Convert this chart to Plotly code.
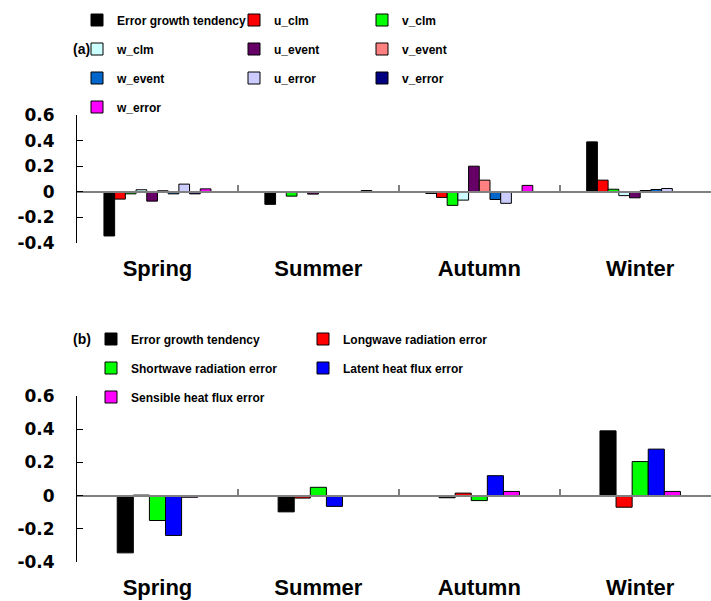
import plotly.graph_objects as go

seasons = ["Spring", "Summer", "Autumn", "Winter"]

# ---- panel (a) data ----
error_growth = [-0.345, -0.098, -0.013, 0.39]
u_clm = [-0.057, -0.003, -0.044, 0.091]
v_clm = [-0.016, -0.034, -0.106, 0.02]
w_clm = [0.016, -0.003, -0.065, -0.03]
u_event = [-0.073, -0.018, 0.2, -0.047]
v_event = [0.008, 0.002, 0.091, 0.01]
w_event = [-0.016, -0.003, -0.06, 0.018]
u_error = [0.06, -0.003, -0.09, 0.026]
v_error = [-0.016, -0.003, -0.003, -0.003]
w_error = [0.023, 0.01, 0.05, -0.003]

# ---- panel (b) data ----
longwave = [0.003, -0.015, 0.015, -0.07]
shortwave = [-0.15, 0.05, -0.03, 0.205]
latent = [-0.24, -0.065, 0.12, 0.28]
sensible = [-0.01, -0.003, 0.025, 0.025]

tick_vals = [-0.4, -0.2, 0, 0.2, 0.4, 0.6]
tick_text = ["-0.4", "-0.2", "0", "0.2", "0.4", "0.6"]

W, H = 711, 601
ML = 77
PW = W - ML


def py(px):
    return 1 - px / H


def pxx(px):
    return (px - ML) / PW


series_a = [
    ("Error growth tendency", error_growth, "#000000", "legend", 112),
    ("u_clm", u_clm, "#FF0000", "legend", 83),
    ("v_clm", v_clm, "#00FF00", "legend", 80),
    ("w_clm", w_clm, "#CCFFFF", "legend2", 112),
    ("u_event", u_event, "#660066", "legend2", 83),
    ("v_event", v_event, "#FF8080", "legend2", 80),
    ("w_event", w_event, "#0066CC", "legend3", 112),
    ("u_error", u_error, "#CCCCFF", "legend3", 83),
    ("v_error", v_error, "#000080", "legend3", 80),
    ("w_error", w_error, "#FF00FF", "legend4", 112),
]

series_b = [
    ("Error growth tendency", error_growth, "#000000", "legend5"),
    ("Longwave radiation error", longwave, "#FF0000", "legend5"),
    ("Shortwave radiation error", shortwave, "#00FF00", "legend6"),
    ("Latent heat flux error", latent, "#0000FF", "legend6"),
    ("Sensible heat flux error", sensible, "#FF00FF", "legend7"),
]

fig = go.Figure()
for name, vals, col, lg, lw in series_a:
    fig.add_trace(go.Bar(
        x=seasons, y=vals, name=name, xaxis="x", yaxis="y",
        marker=dict(color=col, line=dict(color="black", width=1)),
        legend=lg, legendwidth=lw,
    ))

group_b = 0.5
nb = len(series_b)
wb = group_b / nb
for i, (name, vals, col, lg) in enumerate(series_b):
    fig.add_trace(go.Bar(
        x=seasons, y=vals, name=name, xaxis="x2", yaxis="y2",
        width=wb, offset=-group_b / 2 + i * wb,
        marker=dict(color=col, line=dict(color="black", width=1)),
        legend=lg, legendwidth=167,
    ))

ya = [py(243), py(115)]
yb = [py(562), py(396)]
pos_a = ya[0] + 0.4 * (ya[1] - ya[0])
pos_b = yb[0] + 0.4 * (yb[1] - yb[0])

cat_font = dict(family="Liberation Sans, Arial", size=22, color="black", weight="bold")
tick_font = dict(family="DejaVu Sans", size=17, color="black", weight="bold")
leg_font = dict(family="Liberation Sans, Arial", size=12, color="black", weight="bold")
lab_font = dict(family="Liberation Sans, Arial", size=14, color="black", weight="bold")

xcommon = dict(type="category", categoryorder="array", categoryarray=seasons,
               range=[-0.5, 3.44], showline=True, linecolor="#808080", linewidth=1.5,
               ticks="inside", tickson="boundaries", ticklen=6, tickwidth=1.5,
               tickcolor="#808080", tickfont=cat_font, showgrid=False, zeroline=False,
               anchor="free", domain=[0, 1], automargin=False)
ycommon = dict(range=[-0.4, 0.6], tickvals=tick_vals, ticktext=tick_text,
               ticks="inside", ticklen=6, tickcolor="black", showline=True,
               linecolor="black", linewidth=1, tickfont=tick_font,
               showgrid=False, zeroline=False, ticklabelstandoff=18, automargin=False)

legcommon = dict(orientation="h", xanchor="left", yanchor="middle",
                 font=leg_font, bgcolor="rgba(0,0,0,0)", traceorder="normal")

fig.update_layout(
    template="none",
    width=W, height=H,
    margin=dict(l=ML, r=0, t=0, b=0, autoexpand=False),
    paper_bgcolor="white", plot_bgcolor="white",
    barmode="group", bargap=0.335, bargroupgap=0,
    xaxis=dict(**xcommon, position=pos_a, ticklabelstandoff=57),
    yaxis=dict(**ycommon, domain=ya, anchor="x"),
    xaxis2=dict(**xcommon, position=pos_b, ticklabelstandoff=72),
    yaxis2=dict(**ycommon, domain=yb, anchor="x2"),
    legend=dict(**legcommon, x=0, y=py(20)),
    legend2=dict(**legcommon, x=0, y=py(49)),
    legend3=dict(**legcommon, x=0, y=py(78)),
    legend4=dict(**legcommon, x=0, y=py(107)),
    legend5=dict(**legcommon, x=pxx(91), y=py(339)),
    legend6=dict(**legcommon, x=pxx(91), y=py(368)),
    legend7=dict(**legcommon, x=pxx(91), y=py(397)),
    showlegend=True,
    annotations=[
        dict(text="(a)", x=pxx(81), y=py(49), xref="paper", yref="paper",
             showarrow=False, font=lab_font, xanchor="center", yanchor="middle"),
        dict(text="(b)", x=pxx(82), y=py(339), xref="paper", yref="paper",
             showarrow=False, font=lab_font, xanchor="center", yanchor="middle"),
    ],
)

fig.write_html("out.html")
